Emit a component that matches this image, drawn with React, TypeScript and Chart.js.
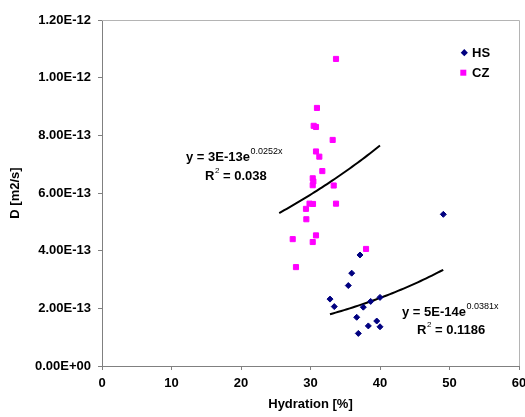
import { useEffect, useRef } from "react";
import { Chart, registerables } from "chart.js";

Chart.register(...registerables);

// ---- Data ----
const hsX = [37.12, 35.93, 35.44, 32.81, 33.42, 37.6, 38.66, 40.0, 36.65, 38.32, 39.53, 40.0, 36.88, 49.11];
const hsY = [3.85e-13, 3.22e-13, 2.79e-13, 2.32e-13, 2.06e-13, 2.04e-13, 2.24e-13, 2.38e-13, 1.69e-13, 1.39e-13, 1.56e-13, 1.36e-13, 1.13e-13, 5.26e-13];

const czX = [33.67, 30.93, 30.46, 30.79, 33.19, 30.79, 31.27, 31.7, 30.32, 30.41, 30.32, 33.34, 29.86, 30.36, 33.67, 29.35, 29.4, 30.79, 27.44, 30.32, 37.99, 27.91];
const czY = [10.65e-13, 8.95e-13, 8.33e-13, 8.29e-13, 7.84e-13, 7.44e-13, 7.26e-13, 6.76e-13, 6.51e-13, 6.4e-13, 6.27e-13, 6.26e-13, 5.63e-13, 5.62e-13, 5.63e-13, 5.45e-13, 5.09e-13, 4.53e-13, 4.4e-13, 4.3e-13, 4.06e-13, 3.43e-13];

// Exponential trendlines y = A * e^(b x)
const hsFitA = 5.14e-14;
const hsFitB = 0.0381;
const hsFitRange = [32.8, 49.1];
const czFitA = 2.79e-13;
const czFitB = 0.0252;
const czFitRange = [25.5, 40.0];

const xTicks = [0, 10, 20, 30, 40, 50, 60];
const yTicks = [0, 2e-13, 4e-13, 6e-13, 8e-13, 1e-12, 1.2e-12];

const seriesNames = ["HS", "CZ"];
const hsEquation = ["y = 5E-14e", "0.0381x", "0.1186"];
const czEquation = ["y = 3E-13e", "0.0252x", "0.038"];

const FONT = "'Liberation Sans', Arial, sans-serif";
const HS_COLOR = "#000080";
const CZ_COLOR = "#FF00FF";

function fmtE(v: number): string {
  if (Math.abs(v) < 1e-30) return "0.00E+00";
  const [m, e] = v.toExponential(2).split("e");
  const ei = parseInt(e, 10);
  return `${m}E${ei < 0 ? "-" : "+"}${String(Math.abs(ei)).padStart(2, "0")}`;
}

function fitPoints(a: number, b: number, range: number[]) {
  const pts: { x: number; y: number }[] = [];
  const n = 40;
  for (let i = 0; i <= n; i++) {
    const x = range[0] + ((range[1] - range[0]) * i) / n;
    pts.push({ x, y: a * Math.exp(b * x) });
  }
  return pts;
}

const decorPlugin = {
  id: "decor",
  beforeDatasetsDraw(chart: any) {
    const { ctx, chartArea } = chart;
    ctx.save();
    ctx.strokeStyle = "#b4b4b4";
    ctx.lineWidth = 1;
    ctx.beginPath();
    ctx.moveTo(chartArea.left, chartArea.top + 0.5);
    ctx.lineTo(chartArea.right + 0.5, chartArea.top + 0.5);
    ctx.lineTo(chartArea.right + 0.5, chartArea.bottom);
    ctx.stroke();
    ctx.restore();
  },
  afterDraw(chart: any) {
    const { ctx } = chart;
    ctx.save();
    ctx.fillStyle = "#000";
    ctx.textBaseline = "middle";
    ctx.textAlign = "left";

    const eq = (x: number, y: number, parts: string[]) => {
      ctx.font = `bold 13px ${FONT}`;
      ctx.fillText(parts[0], x, y);
      const w = ctx.measureText(parts[0]).width;
      ctx.font = `9px ${FONT}`;
      ctx.fillText(parts[1], x + w + 0.5, y - 5);
    };
    const r2 = (x: number, y: number, val: string) => {
      ctx.font = `bold 13px ${FONT}`;
      ctx.fillText("R", x, y);
      const w = ctx.measureText("R").width;
      ctx.font = `8px ${FONT}`;
      ctx.fillText("2", x + w + 0.5, y - 5);
      ctx.font = `bold 13px ${FONT}`;
      ctx.fillText(" = " + val, x + w + 5, y);
    };

    eq(186, 157, czEquation);
    r2(205, 176, czEquation[2]);
    eq(402, 312, hsEquation);
    r2(417, 330, hsEquation[2]);

    // legend
    ctx.fillStyle = HS_COLOR;
    ctx.beginPath();
    const dx = 464.3, dy = 52.7, r = 3.6;
    ctx.moveTo(dx, dy - r);
    ctx.lineTo(dx + r, dy);
    ctx.lineTo(dx, dy + r);
    ctx.lineTo(dx - r, dy);
    ctx.closePath();
    ctx.fill();
    ctx.fillStyle = CZ_COLOR;
    ctx.fillRect(460.3, 69.7, 6, 6);
    ctx.fillStyle = "#000";
    ctx.font = `bold 13px ${FONT}`;
    ctx.fillText(seriesNames[0], 472, 53);
    ctx.fillText(seriesNames[1], 472, 73);
    ctx.restore();
  },
};

export default function App() {
  const ref = useRef<HTMLCanvasElement | null>(null);

  useEffect(() => {
    if (!ref.current) return;
    const axisFont = { family: FONT, size: 13, weight: "bold" as const };
    const chart = new Chart(ref.current, {
      type: "scatter",
      data: {
        datasets: [
          {
            label: seriesNames[0],
            data: hsX.map((x, i) => ({ x, y: hsY[i] })),
            backgroundColor: HS_COLOR,
            borderColor: HS_COLOR,
            borderWidth: 1,
            pointStyle: "rectRot",
            pointRadius: 3,
            order: 1,
          },
          {
            label: seriesNames[1],
            data: czX.map((x, i) => ({ x, y: czY[i] })),
            backgroundColor: CZ_COLOR,
            borderColor: CZ_COLOR,
            borderWidth: 1,
            pointStyle: "rect",
            pointRadius: 3.6,
            order: 1,
          },
          {
            label: "HS fit",
            data: fitPoints(hsFitA, hsFitB, hsFitRange),
            showLine: true,
            borderColor: "#000",
            borderWidth: 2,
            pointRadius: 0,
            order: 2,
          },
          {
            label: "CZ fit",
            data: fitPoints(czFitA, czFitB, czFitRange),
            showLine: true,
            borderColor: "#000",
            borderWidth: 2,
            pointRadius: 0,
            order: 2,
          },
        ],
      },
      options: {
        responsive: false,
        animation: false,
        layout: { padding: { top: 20, right: 6, left: 0, bottom: 0 } },
        plugins: { legend: { display: false }, tooltip: { enabled: false } },
        scales: {
          x: {
            type: "linear",
            min: 0,
            max: 60,
            afterBuildTicks: (s: any) => {
              s.ticks = xTicks.map((value) => ({ value }));
            },
            afterFit: (s: any) => {
              s.height = 51;
              s.paddingLeft = 0;
              s.paddingRight = 0;
            },
            grid: { display: true, drawOnChartArea: false, drawTicks: true, tickLength: 4, color: "#808080", lineWidth: 1 },
            border: { display: true, color: "#808080", width: 1 },
            ticks: { padding: 6, color: "#000", font: axisFont, maxRotation: 0, autoSkip: false },
            title: { display: true, text: "Hydration [%]", color: "#000", font: axisFont, padding: { top: 0, bottom: 5 } },
          },
          y: {
            type: "linear",
            min: 0,
            max: 1.2e-12,
            afterBuildTicks: (s: any) => {
              s.ticks = yTicks.map((value) => ({ value }));
            },
            afterFit: (s: any) => {
              s.width = 102;
              s.paddingTop = 0;
              s.paddingBottom = 0;
            },
            grid: { display: true, drawOnChartArea: false, drawTicks: true, tickLength: 4, color: "#808080", lineWidth: 1 },
            border: { display: true, color: "#808080", width: 1 },
            ticks: { padding: 7, color: "#000", font: axisFont, autoSkip: false, callback: (v: any) => fmtE(Number(v)) },
            title: { display: true, text: "D [m2/s]", color: "#000", font: axisFont, padding: { top: 8, bottom: 0 } },
          },
        },
      },
      plugins: [decorPlugin],
    });
    return () => chart.destroy();
  }, []);

  return (
    <div style={{ position: "absolute", left: 0, top: 0, width: 525, height: 417, background: "#fff" }}>
      <canvas ref={ref} width={525} height={417} style={{ display: "block" }} />
    </div>
  );
}
